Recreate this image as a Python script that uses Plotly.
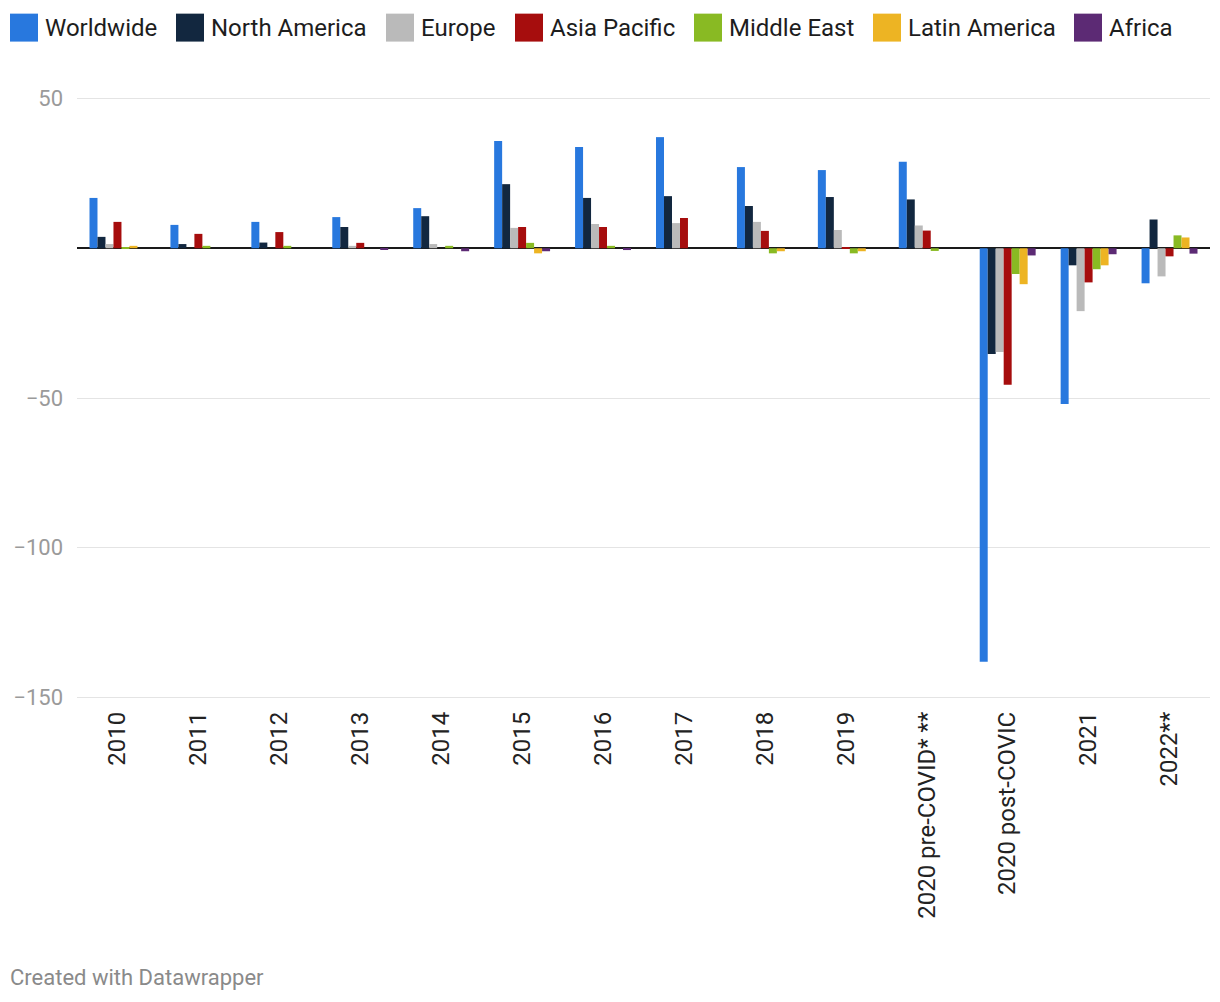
import plotly.graph_objects as go

categories = ["2010", "2011", "2012", "2013", "2014", "2015", "2016", "2017", "2018",
              "2019", "2020 pre-COVID* **", "2020 post-COVIC", "2021", "2022**"]

series_names = ["Worldwide", "North America", "Europe", "Asia Pacific",
                "Middle East", "Latin America", "Africa"]

worldwide = [16.8, 7.8, 8.8, 10.4, 13.4, 35.8, 33.8, 37.1, 27.1, 26.1, 28.9, -138.1, -52.0, -11.7]
north_america = [3.8, 1.4, 1.9, 7.1, 10.7, 21.4, 16.8, 17.4, 14.1, 17.1, 16.3, -35.3, -5.7, 9.6]
europe = [1.4, 0, 0, 0.8, 1.4, 6.8, 8.1, 8.4, 8.8, 6.1, 7.6, -34.6, -21.0, -9.4]
asia_pacific = [8.8, 4.8, 5.4, 1.8, 0, 7.1, 7.1, 10.1, 5.8, 0.4, 5.9, -45.6, -11.4, -2.7]
middle_east = [0.4, 0.8, 0.8, 0, 0.8, 1.8, 0.8, 0, -1.7, -1.7, -0.9, -8.6, -7.0, 4.3]
latin_america = [0.8, 0, 0, 0, 0, -1.7, 0, 0, -1.0, -1.0, 0, -12.0, -5.7, 3.6]
africa = [0, 0, 0, -0.5, -1.0, -1.0, -0.6, 0, 0, 0, 0, -2.4, -2.0, -1.8]

y_tickvals = [50, -50, -100, -150]
y_ticktext = ["50", "\u221250", "\u2212100", "\u2212150"]

series_values = [worldwide, north_america, europe, asia_pacific, middle_east, latin_america, africa]
colors = ["#2878DE", "#12273F", "#BABABA", "#A60D0D", "#89BA23", "#EDB423", "#5C2A74"]

W, H = 1220, 1002
ml = 77
mt = 96.5
plot_right = 1210
plot_bottom = 699.5
mr = W - plot_right
mb = H - plot_bottom
pw, ph = W - ml - mr, H - mt - mb


def px_x(p):
    return (p - ml) / pw


def px_y(p):
    return 1 - (p - mt) / ph


fig = go.Figure()
for name, vals, col in zip(series_names, series_values, colors):
    fig.add_trace(go.Bar(x=categories, y=vals, name=name, marker_color=col,
                         marker_line_width=0, showlegend=False))

# custom legend (page pixel positions)
legend_left = [10, 176, 386, 515, 694, 873, 1074]
for name, col, lx in zip(series_names, colors, legend_left):
    fig.add_shape(type="rect", xref="paper", yref="paper",
                  x0=px_x(lx), x1=px_x(lx + 28), y0=px_y(41), y1=px_y(13),
                  fillcolor=col, line_width=0)
    fig.add_annotation(xref="paper", yref="paper", x=px_x(lx + 33), y=px_y(27),
                       text=name, showarrow=False, xanchor="left", yanchor="middle",
                       font=dict(family="Roboto", size=24, color="#1d1d1d"))

fig.add_annotation(xref="paper", yref="paper", x=px_x(8), y=px_y(978),
                   text="Created with Datawrapper", showarrow=False,
                   xanchor="left", yanchor="middle",
                   font=dict(family="Roboto", size=22, color="#8a8a8a"))

fig.update_layout(
    width=W, height=H,
    margin=dict(l=ml, r=mr, t=mt, b=mb, pad=0, autoexpand=False),
    paper_bgcolor="white", plot_bgcolor="white",
    barmode="group", bargap=0.309, bargroupgap=0,
    font=dict(family="Roboto"),
    xaxis=dict(type="category", range=[-0.5, 13.5], tickangle=-90,
               tickfont=dict(family="Roboto", size=24, color="#222222"),
               showgrid=False, showline=False, ticks="", ticklabelstandoff=7,
               automargin=False),
    yaxis=dict(range=[-150.5, 50.5], tickvals=y_tickvals, ticktext=y_ticktext,
               tickfont=dict(family="Roboto", size=22, color="#9a9a9a"),
               showgrid=True, gridcolor="#e4e4e4", gridwidth=1,
               zeroline=True, zerolinecolor="#1a1a1a", zerolinewidth=2,
               showline=False, ticks="", ticklabelstandoff=13,
               automargin=False),
)

fig.write_html(
    "out.html",
    config={"displayModeBar": False},
    post_script="document.body.style.margin='0';document.body.style.overflow='hidden';",
)
